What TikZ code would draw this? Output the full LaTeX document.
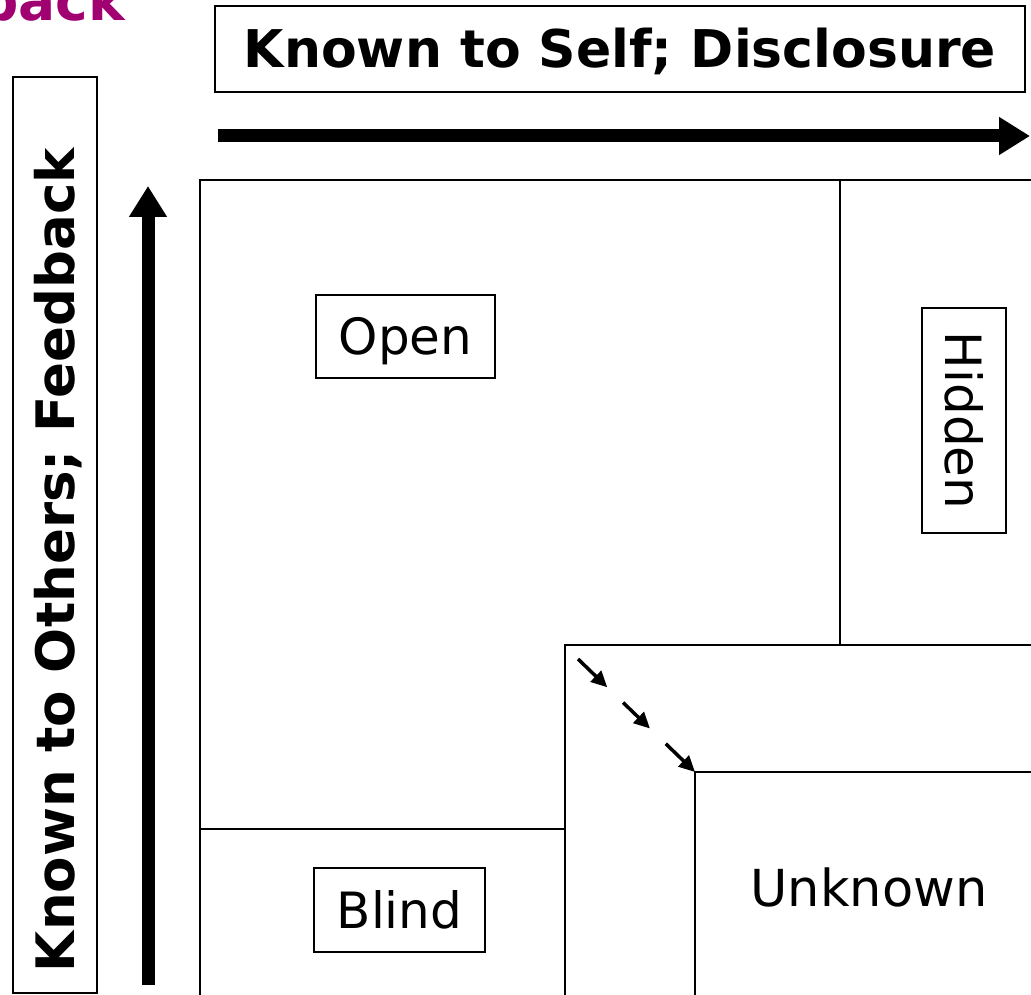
\documentclass[tikz,border=0pt]{standalone}
\usepackage{fontspec}
\setmainfont{DejaVu Sans}
\usetikzlibrary{arrows.meta}
\usetikzlibrary{calc}
\definecolor{titlemagenta}{RGB}{160,0,112}

\tikzset{
    pane/.style={line width=2.5pt},
    panelabel/.style={draw, line width=2.5pt, inner sep=0pt, text height=36.5pt, text depth=0pt,
        font=\fontsize{50}{60}\selectfont},
    axislabel/.style={draw, line width=2.5pt, inner sep=0pt, text height=38pt, text depth=0pt,
        font=\bfseries\fontsize{52}{60}\selectfont},
    bigarrow/.style={line width=13pt, -{Triangle[length=31pt,width=36pt]}},
    steparrow/.style={line width=3.5pt, -{Triangle[length=16pt,width=15pt]}}
}

\begin{document}
\begin{tikzpicture}[x=1pt, y=-1pt]
    \clip (0,0) rectangle (1031,995);
    \node[anchor=base east, text=titlemagenta, inner sep=0pt, font=\bfseries\fontsize{55}{60}\selectfont]
        (title) at (125,21) {back};

    \node[axislabel, minimum width=810pt, minimum height=86pt] (self) at (620,49) {Known to Self; Disclosure};
    \node[axislabel, rotate=90, font=\bfseries\fontsize{53}{60}\selectfont, minimum height=84pt,
        inner xsep=21pt, text width=874pt, align=left] (others) at (55,535) {Known to Others; Feedback};

    \coordinate (selfstart) at (218,136);
    \coordinate (selfend) at (1030,136);
    \coordinate (othersstart) at (148,985);
    \coordinate (othersend) at (148,186);
    \draw[bigarrow] (selfstart) -- (selfend);
    \draw[bigarrow] (othersstart) -- (othersend);

    \draw[pane] (1040,180) -- (200,180) -- (200,1000);
    \draw[pane] (840,180) -- (840,645);
    \draw[pane] (200,829) -- (565,829);
    \draw[pane] (1040,645) -- (565,645) -- (565,1000);
    \draw[pane] (1040,772) -- (695,772) -- (695,1000);

    \coordinate (gapstart) at (578,659);
    \coordinate (corner) at (695,772);
    \foreach \a/\b in {0/0.25, 0.385/0.615, 0.75/1} {
        \draw[steparrow] ($(gapstart)!\a!(corner)$) -- ($(gapstart)!\b!(corner)$);
    }

    \node[panelabel, minimum width=179pt, minimum height=83pt] (open) at (405.5,336.5) {Open};
    \node[panelabel, rotate=-90, minimum width=225pt, minimum height=84pt] (hidden) at (964,420.5) {Hidden};
    \node[panelabel, minimum width=171pt, minimum height=84pt] (blind) at (399.5,910) {Blind};
    \node[panelabel, draw=none, font=\fontsize{51}{60}\selectfont] (unknown) at (869,888.5) {Unknown};
\end{tikzpicture}
\end{document}
